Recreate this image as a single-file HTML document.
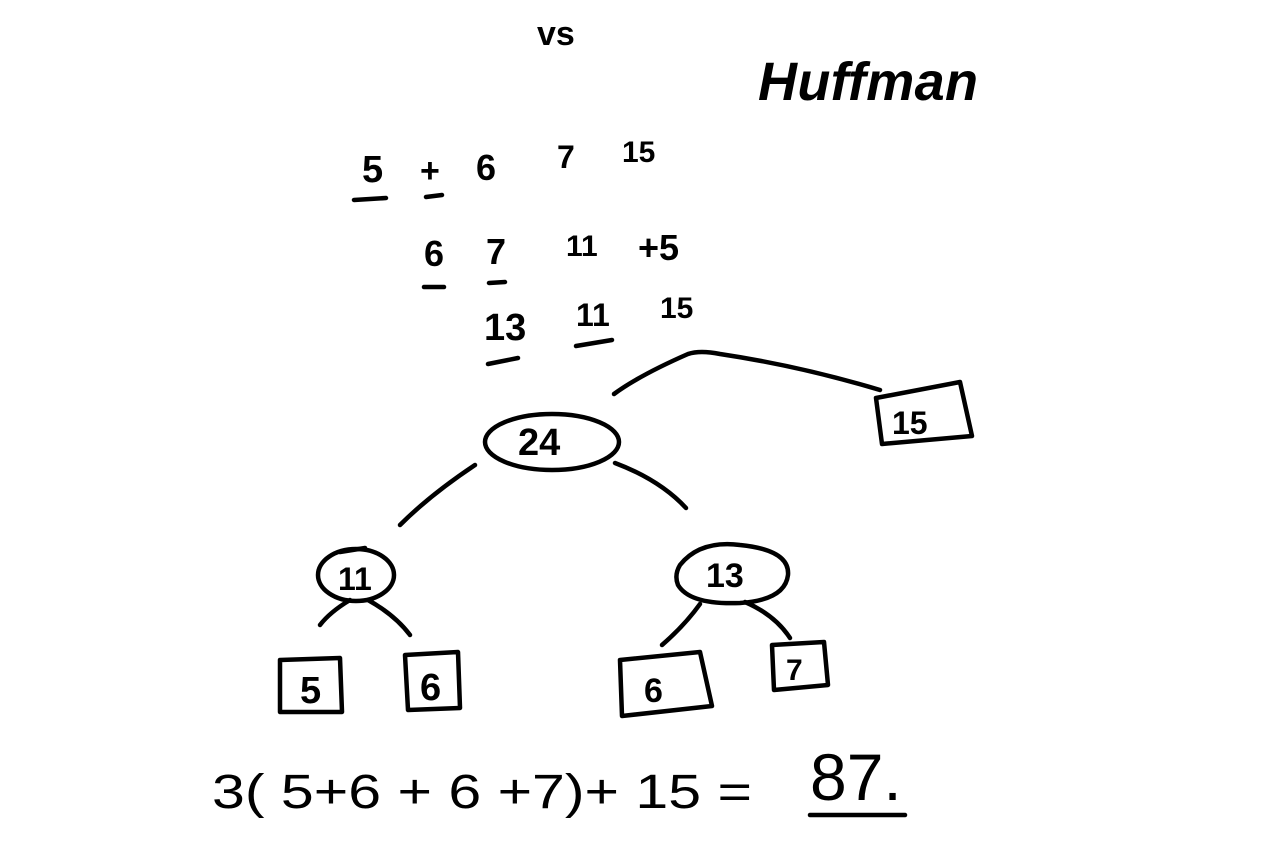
<!DOCTYPE html>
<html><head><meta charset="utf-8"><style>
html,body{margin:0;padding:0;background:#fff;}
svg{display:block}
text{font-family:"Liberation Sans",sans-serif;fill:#000;}
</style></head><body>
<svg width="1280" height="854" viewBox="0 0 1280 854" xmlns="http://www.w3.org/2000/svg">
<g stroke="#000" stroke-width="4.5" fill="none" stroke-linecap="round" stroke-linejoin="round">
<path d="M354 200 L386 198"/><path d="M426 197 L442 195"/>
<path d="M424 287 L444 287"/><path d="M489 283 L505 282"/>
<path d="M488 364 L518 358"/><path d="M576 346 L612 340"/>
<path d="M810 815 L905 815"/>
<path d="M614 394 Q640 375 688 354 Q700 350 720 354 Q800 366 880 390"/>
<ellipse cx="552" cy="442" rx="67" ry="28"/>
<path d="M475 465 Q430 495 400 525"/>
<path d="M615 463 Q660 480 686 508"/>
<path d="M876 398 L960 382 L972 436 L882 444 Z"/>
<ellipse cx="356" cy="575" rx="38" ry="26"/>
<path d="M350 600 Q330 612 320 625"/><path d="M368 600 Q395 615 410 635"/>
<path d="M680 565 Q700 540 740 545 Q790 550 788 575 Q785 600 740 603 Q690 605 678 585 Q674 575 680 565 Z"/>
<path d="M700 604 Q685 625 662 645"/><path d="M745 602 Q775 615 790 638"/>
<path d="M280 660 L340 658 L342 712 L280 712 Z"/>
<path d="M405 655 L458 652 L460 708 L408 710 Z"/>
<path d="M620 660 L700 652 L712 706 L622 716 Z"/>
<path d="M772 645 L824 642 L828 685 L774 690 Z"/>
<path d="M340 552 L365 548"/>
</g>
<g font-weight="bold">
<text x="537" y="45" font-size="34">vs</text>
<text x="758" y="100" font-size="54" font-style="italic" textLength="220">Huffman</text>
<text x="362" y="182" font-size="38">5</text>
<text x="420" y="182" font-size="34">+</text>
<text x="476" y="180" font-size="36">6</text>
<text x="557" y="168" font-size="32">7</text>
<text x="622" y="162" font-size="30">15</text>
<text x="424" y="266" font-size="36">6</text>
<text x="486" y="264" font-size="36">7</text>
<text x="566" y="256" font-size="30">11</text>
<text x="638" y="260" font-size="36">+5</text>
<text x="484" y="340" font-size="38">13</text>
<text x="576" y="326" font-size="32">11</text>
<text x="660" y="318" font-size="30">15</text>
<text x="518" y="455" font-size="38">24</text>
<text x="892" y="434" font-size="32">15</text>
<text x="338" y="590" font-size="32">11</text>
<text x="706" y="587" font-size="34">13</text>
<text x="300" y="703" font-size="38">5</text>
<text x="420" y="700" font-size="38">6</text>
<text x="644" y="702" font-size="34">6</text>
<text x="786" y="680" font-size="30">7</text>
<text x="212" y="808" font-size="48" font-weight="normal" textLength="540" lengthAdjust="spacingAndGlyphs">3( 5+6 + 6 +7)+ 15 =</text>
<text x="810" y="800" font-size="66" font-weight="normal">87.</text>
</g>
</svg>
</body></html>
